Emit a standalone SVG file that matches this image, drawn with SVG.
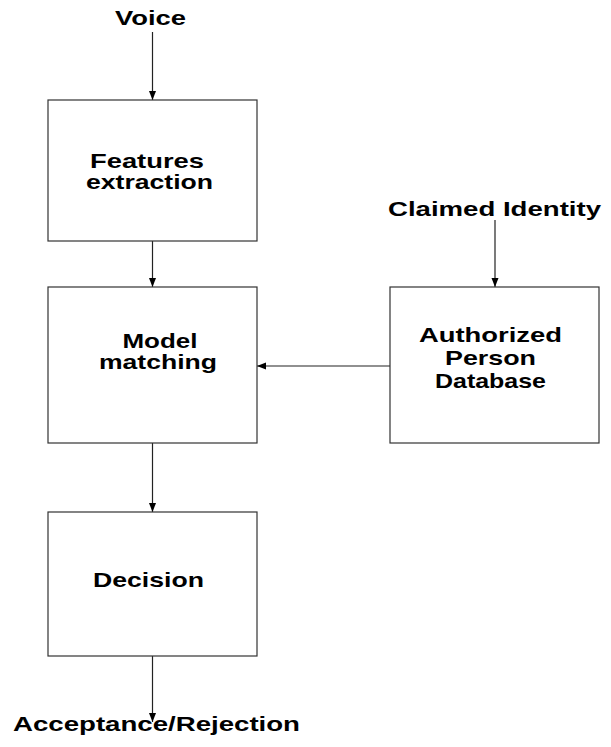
<svg xmlns="http://www.w3.org/2000/svg" width="611" height="747" viewBox="0 0 611 747">
<style>
.box{fill:#fff;stroke:#333;stroke-width:1.2}
.lbl{font-family:"Liberation Sans",Arial,sans-serif;font-weight:bold;font-size:21px;fill:#000;text-anchor:middle}
.con{stroke:#222;stroke-width:1.2;fill:none;marker-end:url(#ah)}
</style>
<defs>
<marker id="ah" markerUnits="userSpaceOnUse" markerWidth="9" markerHeight="8" refX="9" refY="4" orient="auto">
<path d="M0,0.5 L9,4 L0,7.5 z" fill="#000"/>
</marker>
</defs>
<rect width="611" height="747" fill="#fff"/>
<g id="connectors">
<line class="con" x1="152.5" y1="32" x2="152.5" y2="100"/>
<line class="con" x1="152.5" y1="241" x2="152.5" y2="287"/>
<line class="con" x1="152.5" y1="443" x2="152.5" y2="512"/>
<line class="con" x1="152.5" y1="656" x2="152.5" y2="722"/>
<line class="con" x1="495" y1="220" x2="495" y2="287"/>
<line class="con" x1="390" y1="366" x2="257" y2="366"/>
</g>
<g id="voice"><text class="lbl" x="150.5" y="25" textLength="71" lengthAdjust="spacingAndGlyphs">Voice</text></g>
<g id="features">
<rect class="box" x="48" y="100" width="209" height="141"/>
<text class="lbl" x="147" y="168" textLength="114" lengthAdjust="spacingAndGlyphs">Features</text>
<text class="lbl" x="149.5" y="189" textLength="127" lengthAdjust="spacingAndGlyphs">extraction</text>
</g>
<g id="model">
<rect class="box" x="48" y="287" width="209" height="156"/>
<text class="lbl" x="160" y="348" textLength="75" lengthAdjust="spacingAndGlyphs">Model</text>
<text class="lbl" x="158" y="369" textLength="118" lengthAdjust="spacingAndGlyphs">matching</text>
</g>
<g id="claimed"><text class="lbl" x="494.5" y="216" textLength="213" lengthAdjust="spacingAndGlyphs">Claimed Identity</text></g>
<g id="database">
<rect class="box" x="390" y="287" width="209" height="156"/>
<text class="lbl" x="490.5" y="342" textLength="143" lengthAdjust="spacingAndGlyphs">Authorized</text>
<text class="lbl" x="490.5" y="365" textLength="91" lengthAdjust="spacingAndGlyphs">Person</text>
<text class="lbl" x="490.5" y="388" textLength="111" lengthAdjust="spacingAndGlyphs">Database</text>
</g>
<g id="decision">
<rect class="box" x="48" y="512" width="209" height="144"/>
<text class="lbl" x="148.5" y="587" textLength="111" lengthAdjust="spacingAndGlyphs">Decision</text>
</g>
<g id="result"><text class="lbl" x="156.5" y="731" textLength="287" lengthAdjust="spacingAndGlyphs">Acceptance/Rejection</text></g>
</svg>
